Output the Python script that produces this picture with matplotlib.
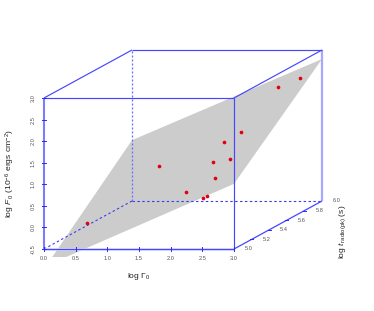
import matplotlib
import matplotlib.pyplot as plt
import numpy as np

matplotlib.use("Agg")

plt.rcParams["font.family"] = ["Liberation Sans", "DejaVu Sans"]
plt.rcParams["mathtext.fontset"] = "custom"
plt.rcParams["mathtext.rm"] = "Liberation Sans"
plt.rcParams["mathtext.it"] = "Liberation Sans:italic"

# values
log_gamma = [0.30, 1.02, 2.05, 2.48, 2.55, 2.48, 2.17, 2.50, 2.11, 2.34, 2.44, 2.81]
log_fluence = [-0.20, 0.79, 0.67, 0.66, 0.71, 0.96, 1.12, 1.25, 1.39, 1.60, 2.26, 2.48]
log_time = [5.27, 5.57, 5.14, 5.02, 5.02, 5.16, 5.36, 5.31, 5.53, 5.56, 5.90, 5.89]

plane_gamma = [0.0, 3.0, 3.0, 0.35, 0.13]
plane_fluence = [0.91, 2.79, 1.01, -0.685, -0.685]
plane_time = [6.0, 6.0, 5.0, 5.0, 5.0]

gamma_ticks = [0.0, 0.5, 1.0, 1.5, 2.0, 2.5, 3.0]
fluence_ticks = [-0.5, 0.0, 0.5, 1.0, 1.5, 2.0, 2.5, 3.0]
time_ticks = [5.0, 5.2, 5.4, 5.6, 5.8, 6.0]


def project(g, f, t):
    # oblique projection like scatterplot3d, result in image pixels
    g, f, t = np.asarray(g, float), np.asarray(f, float), np.asarray(t, float)
    x = 44 + g * 190 / 3 + (t - 5) * 88
    y = 249 - (f + 0.5) * 151 / 3.5 - (t - 5) * 48
    return x, y


def edge(a, b, **kw):
    x, y = project(*zip(a, b))
    ax.plot(x, y, solid_capstyle="butt", **kw)


fig = plt.figure(figsize=(3.74, 3.11), dpi=100)
ax = fig.add_axes([0, 0, 1, 1])
ax.set_xlim(0, 374)
ax.set_ylim(311, 0)
ax.axis("off")

px, py = project(plane_gamma, plane_fluence, plane_time)
ax.fill(px, py, color="#cccccc", lw=0, zorder=1)

BLUE = "#4646ff"
PALE = "#a8a8ff"

# hidden edges
dash = dict(color="#3c3cf0", lw=0.8, ls=(0, (2.2, 2.2)), zorder=2)
edge((0, -0.5, 5), (0, -0.5, 6), **dash)
edge((0, -0.5, 6), (3, -0.5, 6), **dash)
edge((0, -0.5, 6), (0, 3, 6), color="#6a6aff", lw=0.9, ls=(0, (1.6, 1.6)), zorder=2)

# axes with the thick pale look
edge((0, -0.5, 5), (0, 3, 5), color="#7c7cff", lw=1.5, zorder=3)
edge((3, -0.5, 6), (3, 3, 6), color=PALE, lw=1.6, zorder=3)
edge((0, -0.5, 5), (3, -0.5, 5), color="#dcdcff", lw=1.8, zorder=2)
edge((0, -0.5, 5), (3, -0.5, 5), color=BLUE, lw=0.9, zorder=3)
edge((3, -0.5, 5), (3, -0.5, 6), color=BLUE, lw=0.9, zorder=3)

# rest of the box
solid = dict(color=BLUE, lw=0.85, zorder=3)
edge((0, 3, 5), (3, 3, 5), **solid)
edge((0, 3, 6), (3, 3, 6), **solid)
edge((0, 3, 5), (0, 3, 6), **solid)
edge((3, 3, 5), (3, 3, 6), **solid)
edge((3, -0.5, 5), (3, 3, 5), **solid)

# ticks and their labels
tick = dict(color="#2a2aff", lw=0.7, zorder=4)
lab = dict(fontsize=4.1, color="#555555")
for g in gamma_ticks:
    x, y = project(g, -0.5, 5)
    ax.plot([x, x], [y - 1.8, y + 1.8], **tick)
    ax.text(x, y + 9, f"{g:.1f}", ha="center", va="center", **lab)
for f in fluence_ticks:
    x, y = project(0, f, 5)
    ax.plot([x - 2, x + 2], [y, y], **tick)
    ax.text(x - 10.5, y, f"{f:.1f}", ha="center", va="center", rotation=90, **lab)
for t in time_ticks[1:-1]:
    x, y = project(3, -0.5, t)
    ax.plot([x - 1.5, x + 1.5], [y, y], **tick)
for t in time_ticks:
    x, y = project(3, -0.5, t)
    ax.text(x + 15, y, f"{t:.1f}", ha="center", va="center", **lab)

sx, sy = project(log_gamma, log_fluence, log_time)
ax.scatter(sx, sy, s=7, color="#e00010", lw=0, zorder=5)

label = dict(fontsize=6.1, color="#222222", ha="center", va="center")
ax.text(139, 277, r"log $\Gamma_0$", **label)
ax.text(10, 174, r"log $\mathit{F}_{\,0}$ ($10^{-6}$ ergs cm$^{-2}$)", rotation=90, **label)
ax.text(343, 232, r"log $\mathit{t}_{\,\mathrm{radio(pk)}}$ (s)", rotation=90, **label)

fig.savefig("out.png", dpi=100, facecolor="white")
